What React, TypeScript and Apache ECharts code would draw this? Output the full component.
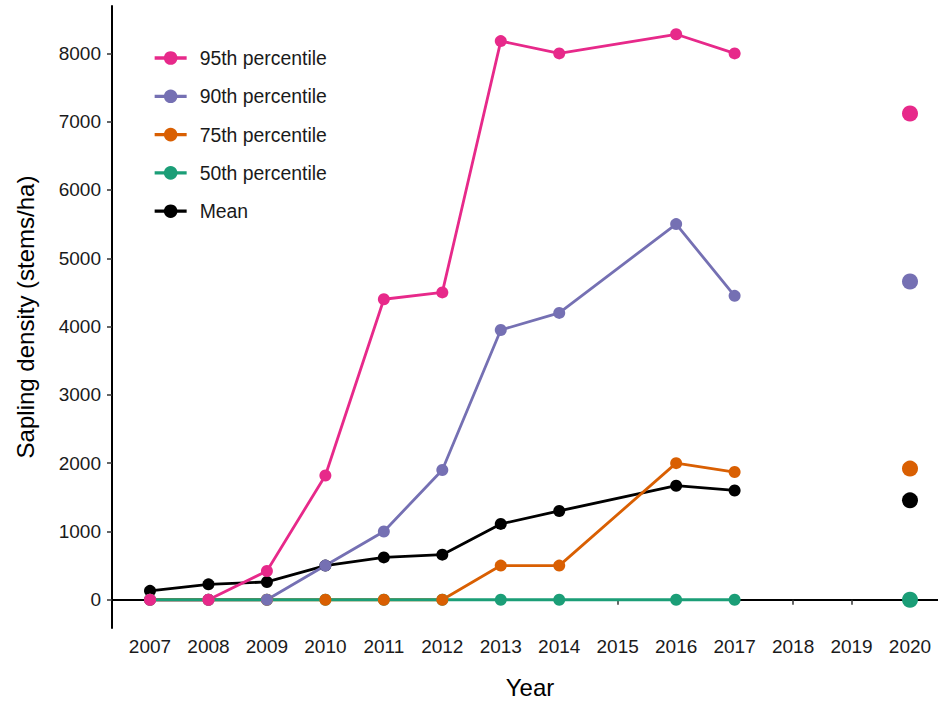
import React, { useEffect, useRef } from "react";
import * as echarts from "echarts";

const years = [2007, 2008, 2009, 2010, 2011, 2012, 2013, 2014, 2016, 2017];
const p95 = [0, 0, 420, 1820, 4400, 4500, 8180, 8000, 8280, 8000];
const p90 = [0, 0, 0, 500, 1000, 1900, 3950, 4200, 5500, 4450];
const p75 = [0, 0, 0, 0, 0, 0, 500, 500, 2000, 1870];
const p50 = [0, 0, 0, 0, 0, 0, 0, 0, 0, 0];
const meanVals = [130, 225, 260, 500, 620, 660, 1110, 1300, 1670, 1600];

const year2020 = 2020;
const p95_2020 = 7120;
const p90_2020 = 4660;
const p75_2020 = 1920;
const p50_2020 = 0;
const mean_2020 = 1455;

const xTickYears = [2007, 2008, 2009, 2010, 2011, 2012, 2013, 2014, 2015, 2016, 2017, 2018, 2019, 2020];
const yTicks = [0, 1000, 2000, 3000, 4000, 5000, 6000, 7000, 8000];

const seriesDefs = [
  { name: "95th percentile", color: "#E7298A", vals: p95, v2020: p95_2020 },
  { name: "90th percentile", color: "#7570B3", vals: p90, v2020: p90_2020 },
  { name: "75th percentile", color: "#D95F02", vals: p75, v2020: p75_2020 },
  { name: "50th percentile", color: "#1B9E77", vals: p50, v2020: p50_2020 },
  { name: "Mean", color: "#000000", vals: meanVals, v2020: mean_2020 },
];

export default function App() {
  const ref = useRef<HTMLDivElement>(null);
  useEffect(() => {
    if (!ref.current) return;
    const chart = echarts.init(ref.current, undefined, { renderer: "svg" });
    const byName = (n: string) => seriesDefs.find((s) => s.name === n)!;
    const lineOrder = ["Mean", "95th percentile", "90th percentile", "75th percentile", "50th percentile"];
    const pointOrder = ["Mean", "50th percentile", "75th percentile", "90th percentile", "95th percentile"];
    const lineSeries = lineOrder.map((n) => {
      const s = byName(n);
      return {
        type: "line",
        name: s.name,
        z: 2,
        symbol: "circle",
        showSymbol: false,
        symbolSize: 12,
        color: s.color,
        lineStyle: { width: 2.8, color: s.color },
        itemStyle: { color: s.color },
        data: years.map((y, i) => [y, s.vals[i]]),
        silent: true,
      };
    });
    const pointSeries = pointOrder.map((n) => {
      const s = byName(n);
      return {
        type: "scatter",
        name: s.name,
        z: 3,
        symbol: "circle",
        itemStyle: { color: s.color, opacity: 1 },
        data: [
          ...years.map((y, i) => ({ value: [y, s.vals[i]], symbolSize: 12 })),
          { value: [year2020, s.v2020], symbolSize: 16 },
        ],
        silent: true,
      };
    });
    const option = {
      animation: false,
      backgroundColor: "#ffffff",
      textStyle: { fontFamily: "Liberation Sans, Arial, sans-serif" },
      grid: { left: 112, top: 6, width: 836, height: 622.6, containLabel: false },
      legend: {
        orient: "vertical",
        left: 153,
        top: 48.5,
        padding: 0,
        data: seriesDefs.map((s) => s.name),
        itemWidth: 32,
        itemHeight: 17,
        itemGap: 19.3,
        itemStyle: { opacity: 1 },
        lineStyle: { width: 3.3 },
        textStyle: { fontSize: 19.4, lineHeight: 17, color: "#1a1a1a", padding: [0, 0, 0, 8] },
        selectedMode: false,
      },
      xAxis: {
        type: "value",
        min: 2006.35,
        max: 2020.65,
        name: "Year",
        nameLocation: "middle",
        nameGap: 47,
        nameTextStyle: { fontSize: 24, color: "#000" },
        axisLine: { show: true, lineStyle: { color: "#000", width: 2 } },
        axisTick: { show: true, customValues: xTickYears, length: 5, lineStyle: { color: "#333", width: 1.5 } },
        axisLabel: { customValues: xTickYears, fontSize: 19, color: "#1a1a1a", margin: 9, formatter: (v: number) => String(v) },
        splitLine: { show: false },
      },
      yAxis: {
        type: "value",
        min: -414,
        max: 8694,
        name: "Sapling density (stems/ha)",
        nameLocation: "middle",
        nameGap: 75,
        nameTextStyle: { fontSize: 24, color: "#000" },
        axisLine: { show: true, lineStyle: { color: "#000", width: 2 } },
        axisTick: { show: true, customValues: yTicks, length: 5, lineStyle: { color: "#333", width: 1.5 } },
        axisLabel: { customValues: yTicks, fontSize: 19, color: "#1a1a1a", margin: 11, formatter: (v: number) => String(v) },
        splitLine: { show: false },
      },
      series: [...lineSeries, ...pointSeries],
    };
    chart.setOption(option as any);
    return () => chart.dispose();
  }, []);
  return (
    <div style={{ width: 938, height: 704, position: "absolute", left: 0, top: 0, overflow: "hidden", background: "#fff" }}>
      <div ref={ref} style={{ width: 948, height: 704 }} />
    </div>
  );
}
